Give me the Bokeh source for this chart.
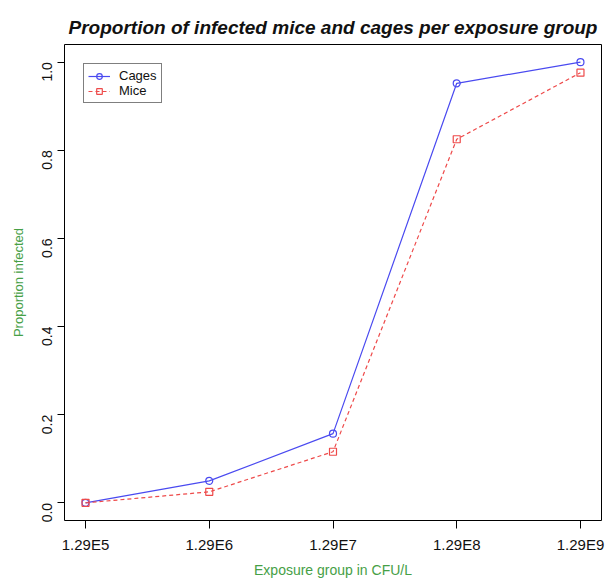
import math
from bokeh.plotting import figure
from bokeh.models import FixedTicker, Range1d, Legend, LegendItem
from bokeh.embed import file_html
from bokeh.resources import INLINE

groups = ["1.29E5", "1.29E6", "1.29E7", "1.29E8", "1.29E9"]
x_pos = [1, 2, 3, 4, 5]
cages = [0.0, 0.05, 0.157, 0.952, 1.0]
mice = [0.0, 0.025, 0.116, 0.825, 0.976]
y_ticks = [0.0, 0.2, 0.4, 0.6, 0.8, 1.0]

FONT = "Liberation Sans"
GREEN = "#46a046"
BLUE = "#4a4af0"
RED = "#ee4a4a"

p = figure(width=605, height=580, output_backend="svg", toolbar_location=None,
           x_range=Range1d(0.83, 5.17), y_range=Range1d(-0.04, 1.04),
           min_border_left=64, min_border_right=4, min_border_top=44, min_border_bottom=60)

p.title.text = "Proportion of infected mice and cages per exposure group"
p.title.text_font = FONT
p.title.text_font_style = "bold italic"
p.title.text_font_size = "19px"
p.title.text_color = "#111111"
p.title.align = "center"
p.title.offset = 0
p.title.standoff = 14

p.grid.visible = False
p.outline_line_color = "black"
p.outline_line_width = 1
p.outline_line_alpha = 1

lc = p.line(x_pos, cages, line_color=BLUE, line_width=1.2)
sc = p.scatter(x_pos, cages, marker="circle", size=7, fill_color=None, line_color=BLUE, line_width=1.2)
lm = p.line(x_pos, mice, line_color=RED, line_width=1.2, line_dash="4 3")
sm = p.scatter(x_pos, mice, marker="square", size=7, fill_color=None, line_color=RED, line_width=1.2)

legend = Legend(items=[LegendItem(label="Cages", renderers=[lc, sc]),
                       LegendItem(label="Mice", renderers=[lm, sm])],
                location="top_left")
legend.margin = 19
legend.padding = 4
legend.spacing = 0
legend.border_line_color = "black"
legend.border_line_width = 1
legend.label_text_font = FONT
legend.label_text_font_size = "13px"
legend.label_text_color = "#111111"
legend.glyph_width = 22
legend.glyph_height = 14
legend.label_height = 14
legend.label_standoff = 9
p.add_layout(legend)

xa = p.xaxis[0]
xa.ticker = FixedTicker(ticks=x_pos)
xa.major_label_overrides = {x: g for x, g in zip(x_pos, groups)}
xa.bounds = (1, 5)
xa.axis_label = "Exposure group in CFU/L"
xa.axis_label_text_color = GREEN
xa.axis_label_text_font = FONT
xa.axis_label_text_font_style = "normal"
xa.axis_label_text_font_size = "14px"
xa.axis_label_standoff = 6
xa.major_label_text_font = FONT
xa.major_label_text_font_size = "15px"
xa.major_label_text_color = "#111111"
xa.major_label_standoff = 7
xa.major_tick_out = 8
xa.major_tick_in = 0
xa.minor_tick_line_color = None
xa.axis_line_color = "black"

ya = p.yaxis[0]
ya.ticker = FixedTicker(ticks=y_ticks)
ya.major_label_overrides = {t: f"{t:.1f}" for t in y_ticks}
ya.bounds = (0, 1)
ya.major_label_orientation = math.pi / 2
ya.axis_label = "Proportion infected"
ya.axis_label_text_color = GREEN
ya.axis_label_text_font = FONT
ya.axis_label_text_font_style = "normal"
ya.axis_label_text_font_size = "13px"
ya.axis_label_standoff = 9
ya.major_label_text_font = FONT
ya.major_label_text_font_size = "14px"
ya.major_label_text_color = "#111111"
ya.major_label_standoff = 10
ya.major_tick_out = 7
ya.major_tick_in = 0
ya.minor_tick_line_color = None
ya.axis_line_color = "black"

open("out.html", "w").write(file_html(p, INLINE))
